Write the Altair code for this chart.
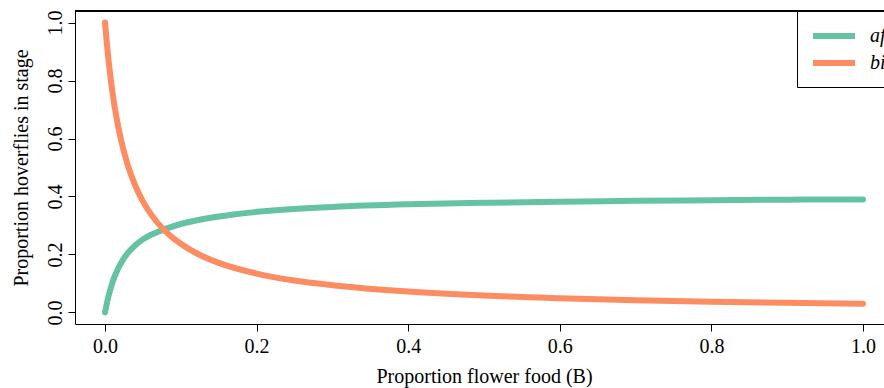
import altair as alt
import pandas as pd

# Proportion flower food (B)
B = [0, 0.0025, 0.005, 0.0075, 0.01, 0.015, 0.02, 0.03, 0.04, 0.05, 0.06, 0.08,
     0.1, 0.12, 0.15, 0.2, 0.25, 0.3, 0.4, 0.5, 0.6, 0.7, 0.8, 0.9, 1.0]
# proportion of hoverflies in each stage
a_f = [0.0, 0.032, 0.060, 0.083, 0.105, 0.138, 0.165, 0.205, 0.232, 0.252, 0.267, 0.288,
       0.305, 0.317, 0.331, 0.347, 0.357, 0.364, 0.373, 0.378, 0.382, 0.385, 0.387, 0.389, 0.390]
b_i = [1.0, 0.925, 0.861, 0.805, 0.756, 0.674, 0.608, 0.508, 0.437, 0.383, 0.341, 0.279,
       0.237, 0.205, 0.171, 0.134, 0.110, 0.094, 0.072, 0.058, 0.049, 0.042, 0.037, 0.033, 0.030]

series_names = ["a_f", "b_i"]
colors = ["#66C2A5", "#FC8D62"]
x_ticks = [0.0, 0.2, 0.4, 0.6, 0.8, 1.0]
y_ticks = [0.0, 0.2, 0.4, 0.6, 0.8, 1.0]

rows = []
for name, vals in zip(series_names, [a_f, b_i]):
    for xv, yv in zip(B, vals):
        rows.append({"B": xv, "value": yv, "stage": name})
df = pd.DataFrame(rows)

FONT = "Liberation Serif"

label_expr = "datum.label == 'a_f' ? 'af' : 'bi'"

lines = alt.Chart(df).mark_line(strokeWidth=6, strokeCap="round", interpolate="monotone").encode(
    x=alt.X("B:Q",
            scale=alt.Scale(domain=[-0.0396, 1.0277], nice=False, zero=False),
            axis=alt.Axis(title="Proportion flower food (B)", values=x_ticks, format=".1f",
                          grid=False, domain=True, domainColor="black", domainWidth=1,
                          ticks=True, tickSize=7, tickColor="black", tickWidth=1,
                          labelFont=FONT, labelFontSize=20, labelColor="black",
                          labelBaseline="alphabetic", labelPadding=21,
                          titleFont=FONT, titleFontSize=20, titleFontWeight="normal",
                          titleColor="black", titleBaseline="alphabetic",
                          titleX=409, titleY=58, titleAlign="center")),
    y=alt.Y("value:Q",
            scale=alt.Scale(domain=[-0.04, 1.04], nice=False, zero=False),
            axis=alt.Axis(title="Proportion hoverflies in stage", values=y_ticks, format=".1f",
                          grid=False, domain=True, domainColor="black", domainWidth=1,
                          ticks=True, tickSize=7, tickColor="black", tickWidth=1,
                          labelFont=FONT, labelFontSize=20, labelColor="black",
                          labelAngle=-90, labelAlign="center", labelBaseline="alphabetic",
                          labelPadding=7,
                          titleFont=FONT, titleFontSize=20, titleFontWeight="normal",
                          titleColor="black", titleBaseline="alphabetic",
                          titleX=-48, titleY=156.5, titleAngle=-90, titleAlign="center")),
    color=alt.Color("stage:N",
                    scale=alt.Scale(domain=series_names, range=colors),
                    legend=alt.Legend(title=None, orient="none", legendX=722, legendY=0,
                                      symbolType="M-2.1,0H2.1", symbolSize=400,
                                      symbolStrokeWidth=6, symbolOffset=12,
                                      labelFont=FONT, labelFontSize=20, labelFontStyle="italic",
                                      labelColor="black", labelExpr=label_expr, labelOffset=23,
                                      padding=12, rowPadding=2,
                                      strokeColor="black", fillColor="white",
                                      cornerRadius=0)),
)

top_line = alt.Chart(df).mark_rule(color="black", strokeWidth=1).encode(
    x=alt.value(0), x2=alt.value("width"), y=alt.value(0)
)

chart = alt.layer(lines, top_line).properties(
    width=809, height=313,
    autosize=alt.AutoSizeParams(type="none"),
    padding={"left": 75, "top": 11, "right": 0, "bottom": 64},
    background="white",
).configure_view(stroke=None)

chart.save("out.html", embed_options={"renderer": "svg", "actions": False})
